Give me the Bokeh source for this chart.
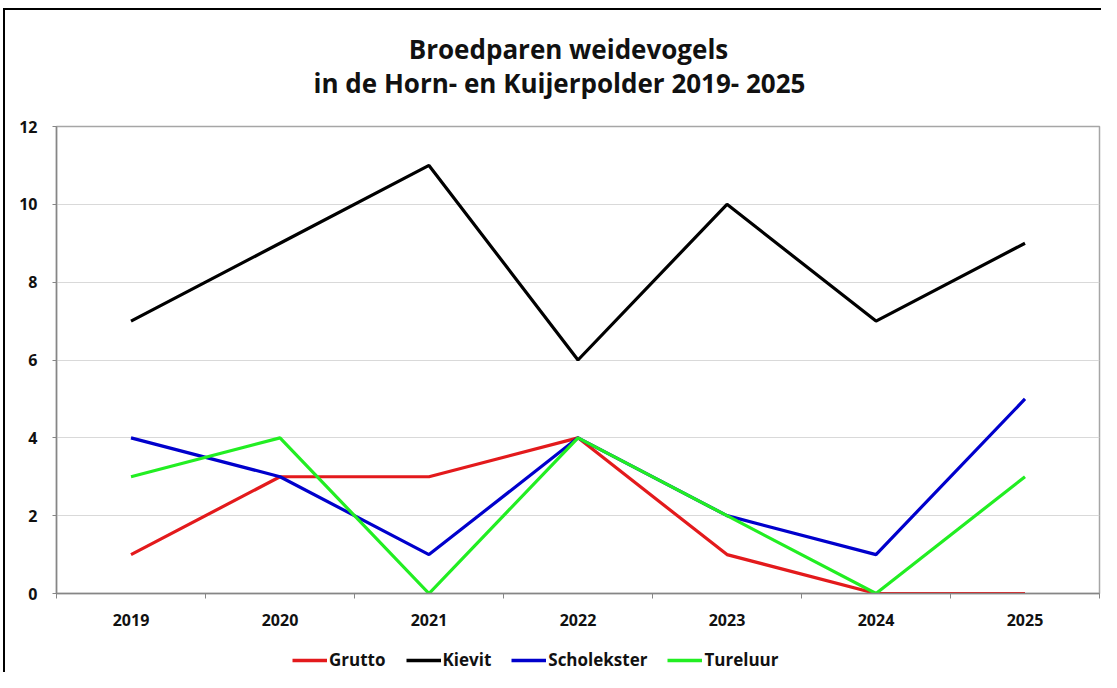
from bokeh.plotting import figure
from bokeh.models import (Legend, LegendItem, FixedTicker, Range1d, Label)
from bokeh.layouts import column
from bokeh.embed import file_html
from bokeh.resources import INLINE

years = ["2019", "2020", "2021", "2022", "2023", "2024", "2025"]
grutto = [1, 3, 3, 4, 1, 0, 0]
kievit = [7, 9, 11, 6, 10, 7, 9]
scholekster = [4, 3, 1, 4, 2, 1, 5]
tureluur = [3, 4, 0, 4, 2, 0, 3]
y_ticks = [0, 2, 4, 6, 8, 10, 12]
title_lines = ["Broedparen weidevogels", "in de Horn- en Kuijerpolder 2019- 2025"]

series = [("Grutto", grutto, "#e31a1c"),
          ("Kievit", kievit, "#000000"),
          ("Scholekster", scholekster, "#0000cc"),
          ("Tureluur", tureluur, "#22ee22")]

FONT = "Open Sans"
W = 1096
LEFT, RIGHT = 51, 2
TH, MH, LH = 104, 521, 37


def bare(height, yr):
    f = figure(width=W, height=height, output_backend="svg", toolbar_location=None,
               x_range=Range1d(LEFT, W - RIGHT), y_range=yr,
               x_axis_location=None, y_axis_location=None,
               min_border_left=LEFT, min_border_right=RIGHT, min_border_top=0, min_border_bottom=0)
    f.outline_line_color = None
    f.grid.grid_line_color = None
    f.background_fill_color = "white"
    f.border_fill_color = "white"
    return f


# ---- title strip (x in canvas pixels)
tf = bare(TH, Range1d(0, TH))
for txt, (cx, cy) in zip(title_lines, [(563, 66), (554, 32)]):
    tf.add_layout(Label(x=cx, y=cy, text=txt, text_align="center", text_baseline="middle",
                        text_font=FONT, text_font_size="26px", text_font_style="bold",
                        text_color="#111111"))

# ---- main chart
p = figure(width=W, height=MH, output_backend="svg", toolbar_location=None,
           x_range=Range1d(0, len(years)), y_range=Range1d(0, 12),
           min_border_left=LEFT, min_border_right=RIGHT, min_border_top=12, min_border_bottom=42)
p.outline_line_color = "#a6a6a6"
p.outline_line_width = 1.5
p.background_fill_color = "white"
p.border_fill_color = "white"

xs = [i + 0.5 for i in range(len(years))]
for name, vals, col in series:
    p.line(xs, vals, line_color=col, line_width=3.2)

p.xaxis.ticker = FixedTicker(ticks=xs, minor_ticks=list(range(len(years) + 1)))
p.xaxis.major_label_overrides = {x: y for x, y in zip(xs, years)}
p.xaxis.major_tick_out = 0
p.xaxis.major_tick_in = 0
p.xaxis.minor_tick_out = 5
p.xaxis.minor_tick_in = 0
p.xaxis.minor_tick_line_color = "#868686"
p.xaxis.axis_line_color = "#868686"
p.xaxis.axis_line_width = 1.5
p.xaxis.major_label_standoff = 15
p.xaxis.major_label_text_font = FONT
p.xaxis.major_label_text_font_style = "bold"
p.xaxis.major_label_text_font_size = "16px"
p.xaxis.major_label_text_color = "#111111"

p.yaxis.ticker = FixedTicker(ticks=y_ticks)
p.yaxis.major_tick_out = 4
p.yaxis.major_tick_in = 0
p.yaxis.minor_tick_line_color = None
p.yaxis.major_tick_line_color = "#868686"
p.yaxis.axis_line_color = "#868686"
p.yaxis.axis_line_width = 1.5
p.yaxis.major_label_standoff = 15
p.yaxis.major_label_text_font = FONT
p.yaxis.major_label_text_font_style = "bold"
p.yaxis.major_label_text_font_size = "16px"
p.yaxis.major_label_text_color = "#111111"

p.xgrid.grid_line_color = None
p.ygrid.ticker = FixedTicker(ticks=y_ticks)
p.ygrid.grid_line_color = "#d9d9d9"
p.ygrid.grid_line_width = 1

# ---- legend strip (same series, drawn outside its visible range)
lf = bare(LH, Range1d(1000, 1000 + LH))
items = []
for name, vals, col in series:
    r = lf.line(xs, vals, line_color=col, line_width=3.6)
    items.append(LegendItem(label=name, renderers=[r]))
legend = Legend(items=items, orientation="horizontal", location=(234, -1),
                glyph_width=35, glyph_height=16, label_standoff=2, spacing=20,
                label_text_font=FONT, label_text_font_style="bold",
                label_text_font_size="17px", label_text_color="#111111",
                border_line_alpha=0, background_fill_alpha=0, padding=2, margin=0)
lf.add_layout(legend, "center")

layout = column(tf, p, lf, spacing=0)
layout.styles = {"border-top": "2px solid #000", "border-left": "2px solid #000",
                 "margin-left": "3px", "margin-top": "8px"}

open("out.html", "w").write(file_html(layout, INLINE))
